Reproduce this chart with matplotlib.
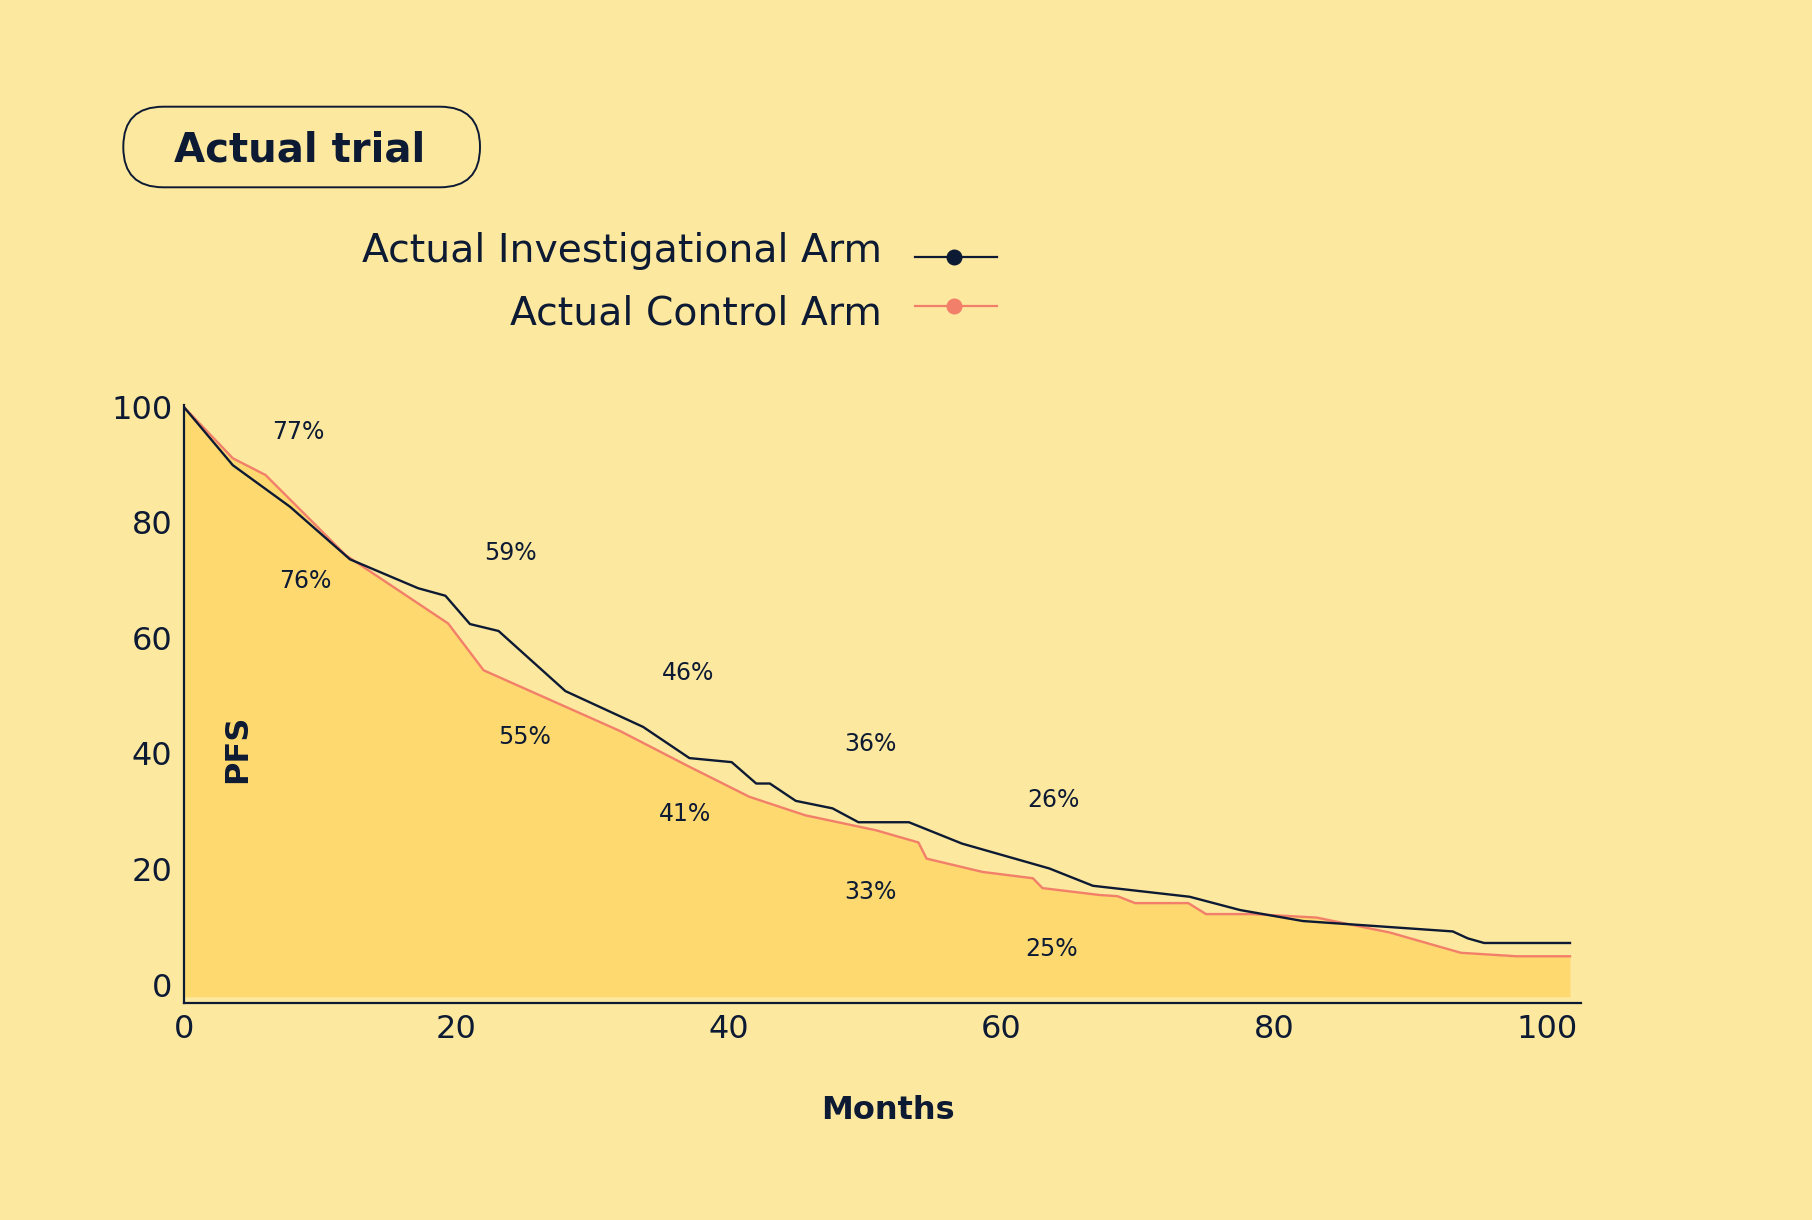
import matplotlib
matplotlib.use("Agg")
import matplotlib.pyplot as plt
from matplotlib.patches import FancyBboxPatch
from matplotlib.lines import Line2D
from matplotlib.transforms import IdentityTransform

# ---------------- data ----------------
inv_months = [0, 3.6, 7.8, 12.2, 17.2, 19.2, 21.0, 23.1, 28.0, 33.7, 37.1, 40.2,
              42.0, 43.0, 44.9, 47.6, 49.5, 53.2, 57.1, 63.5, 66.7, 73.8, 77.5,
              82.1, 93.1, 94.2, 95.4, 101.7]
inv_pfs = [100, 89.9, 82.7, 73.6, 68.6, 67.3, 62.4, 61.2, 50.8, 44.6, 39.2, 38.5,
           34.8, 34.8, 31.8, 30.5, 28.1, 28.1, 24.4, 20.1, 17.1, 15.2, 12.9,
           11.0, 9.2, 8.0, 7.2, 7.2]

ctl_months = [0, 3.6, 6.0, 11.9, 19.4, 22.0, 32.0, 37.1, 41.5, 45.6, 50.8, 53.9,
              54.5, 58.6, 62.3, 63.0, 67.2, 68.5, 69.8, 73.7, 75.0, 78.4, 83.1,
              88.5, 93.7, 97.8, 101.7]
ctl_pfs = [100, 91.1, 88.2, 74.3, 62.5, 54.4, 43.9, 37.7, 32.5, 29.3, 26.7, 24.6,
           21.8, 19.5, 18.4, 16.7, 15.5, 15.3, 14.1, 14.1, 12.2, 12.2, 11.6,
           9.0, 5.5, 4.9, 4.9]

ann_text = ["77%", "76%", "59%", "55%", "46%", "41%", "36%", "33%", "26%", "25%"]
ann_x = [8.4, 8.9, 24.0, 25.0, 37.0, 36.8, 50.4, 50.4, 63.8, 63.7]
ann_y = [96.0, 70.2, 75.2, 43.3, 54.3, 29.9, 42.1, 16.4, 32.3, 6.6]

x_ticks = [0, 20, 40, 60, 80, 100]
y_ticks = [0, 20, 40, 60, 80, 100]

series_labels = ["Actual Investigational Arm", "Actual Control Arm"]

# ---------------- style ----------------
BG = "#FDE89F"
FILL = "#FDD970"
NAVY = "#0D1A33"
RED = "#F27F69"

plt.rcParams['font.family'] = ['DejaVu Sans']

fig = plt.figure(figsize=(18.12, 12.2), dpi=100, facecolor=BG)
ax = fig.add_axes([0.10138, 0.17762, 0.77108, 0.49082])
ax.set_facecolor(BG)
ax.patch.set_alpha(0)

ax.fill_between(ctl_months, ctl_pfs, -2.1, color=FILL, linewidth=0, zorder=1)
ax.plot(ctl_months, ctl_pfs, color=RED, linewidth=1.7, zorder=3,
        solid_joinstyle='round')
ax.plot(inv_months, inv_pfs, color=NAVY, linewidth=1.7, zorder=4,
        solid_joinstyle='round')

for t, x, y in zip(ann_text, ann_x, ann_y):
    ax.text(x, y, t, fontsize=17, color=NAVY, ha='center', va='center_baseline',
            zorder=5)

ax.set_xlim(0, 102.5)
ax.set_ylim(-3.24, 100.4)
ax.set_xticks(x_ticks)
ax.set_yticks(y_ticks)
ax.tick_params(axis='both', length=0, labelsize=23, labelcolor=NAVY)
ax.tick_params(axis='x', pad=7.5)
ax.tick_params(axis='y', pad=8)
for s in ['top', 'right']:
    ax.spines[s].set_visible(False)
for s in ['left', 'bottom']:
    ax.spines[s].set_color(NAVY)
    ax.spines[s].set_linewidth(1.6)
    ax.spines[s].set_zorder(6)

# axis titles
fig.text(0.1313, 0.3859, "PFS", rotation=90, fontsize=23, fontweight='bold',
         color=NAVY, ha='center', va='center')
fig.text(0.490, 0.0831, "Months", fontsize=23, fontweight='bold', color=NAVY,
         ha='center', va='baseline')

# title pill
W, H = 1812, 1220
pill = FancyBboxPatch((123.3, H - 187.3), 356.7, 80.6,
                      boxstyle="round,pad=0,rounding_size=40",
                      transform=IdentityTransform(), facecolor='none',
                      edgecolor=NAVY, linewidth=1.4)
fig.add_artist(pill)
fig.text(0.1656, 0.8675, "Actual trial", fontsize=29, fontweight='bold',
         color=NAVY, ha='center', va='baseline')

# legend (manual)
leg_colors = [NAVY, RED]
leg_text_y = [0.78549, 0.73418]
leg_line_y = [0.78910, 0.74918]
for lab, c, ty, ly in zip(series_labels, leg_colors, leg_text_y, leg_line_y):
    fig.text(0.48659, ty, lab, fontsize=28.4, color=NAVY, ha='right',
             va='baseline')
    ln = Line2D([0.50497, 0.52649, 0.55006], [ly, ly, ly], color=c,
                linewidth=1.6, marker='o', markersize=10.5, markevery=[1],
                markerfacecolor=c, markeredgecolor=c,
                transform=fig.transFigure)
    fig.add_artist(ln)

fig.savefig("out.png", dpi=100, facecolor=BG)
